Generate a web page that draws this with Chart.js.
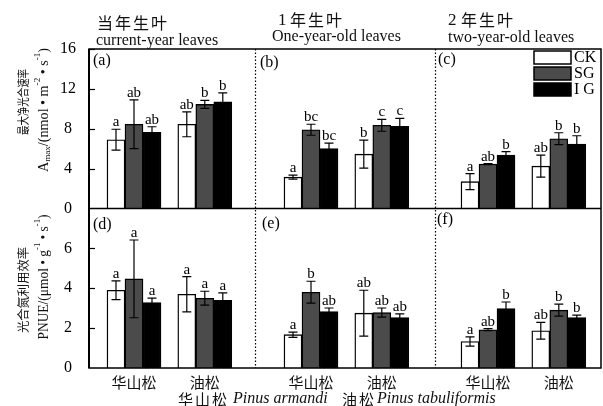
<!DOCTYPE html>
<html>
<head>
<meta charset="utf-8">
<script src="https://cdn.jsdelivr.net/npm/chart.js@4.4.1/dist/chart.umd.min.js"></script>
<style>
body { margin: 0; background: #fff; }
</style>
</head>
<body>
<canvas id="chart" width="603" height="406"></canvas>
<script>
var species    = ['华山松', '油松', '华山松', '油松', '华山松', '油松']
var treatments = ['CK', 'SG', 'I G']
var amaxTicks  = [0, 4, 8, 12, 16]
var pnueTicks  = [0, 2, 4, 6]

// 最大净光合速率 Amax, panels (a)(b)(c)
var amaxCK    = [6.9, 8.45, 3.15, 5.45, 2.7, 4.25]
var amaxCKErr = [1.05, 1.25, 0.2, 1.4, 0.8, 1.1]
var amaxSG    = [8.45, 10.45, 7.9, 8.35, 4.45, 7.0]
var amaxSGErr = [2.45, 0.4, 0.55, 0.6, 0.05, 0.6]
var amaxIG    = [7.65, 10.7, 6.0, 8.25, 5.35, 6.45]
var amaxIGErr = [0.55, 0.9, 0.55, 0.8, 0.35, 0.85]
var amaxCKSig = ['a', 'ab', 'a', 'b', 'a', 'ab']
var amaxSGSig = ['ab', 'b', 'bc', 'c', 'ab', 'b']
var amaxIGSig = ['ab', 'b', 'bc', 'c', 'b', 'b']

// 光合氮利用效率 PNUE, panels (d)(e)(f)
var pnueCK    = [3.9, 3.7, 1.67, 2.75, 1.33, 1.87]
var pnueCKErr = [0.47, 0.88, 0.13, 1.15, 0.23, 0.42]
var pnueSG    = [4.47, 3.5, 3.8, 2.78, 1.92, 2.9]
var pnueSGErr = [1.95, 0.35, 0.55, 0.23, 0.05, 0.3]
var pnueIG    = [3.28, 3.4, 2.83, 2.53, 2.98, 2.53]
var pnueIGErr = [0.22, 0.37, 0.18, 0.18, 0.33, 0.12]
var pnueCKSig = ['a', 'a', 'a', 'ab', 'a', 'ab']
var pnueSGSig = ['a', 'a', 'b', 'ab', 'ab', 'b']
var pnueIGSig = ['a', 'a', 'ab', 'ab', 'b', 'b']

var SERIF = 'Liberation Serif'
var CJK   = 'Noto Sans CJK SC'
var FILLS = ['#ffffff', '#4b4b4b', '#000000']

// 3 panels x 2 species, a wider gap between panels
function slot(i) { return Math.floor(i / 2) * 5 + (i % 2) * 2 + 1 }

function bars(name, axis, fill, values, errs, sig) {
	return {
		label: name, stack: name, yAxisID: axis,
		data: values.map(function (v, i) { return { x: slot(i), y: v } }),
		err: errs, sig: sig,
		backgroundColor: fill, borderColor: '#000', borderWidth: 1.4,
		barThickness: 18
	}
}

function txt(ctx, s, x, y, font, align, base, spacing) {
	ctx.font = font
	ctx.textAlign = align || 'left'
	ctx.textBaseline = base || 'middle'
	ctx.letterSpacing = spacing || '0px'
	ctx.fillText(s, x, y)
	ctx.letterSpacing = '0px'
}

// rotated axis title, parts = [text, font, shift]; squeezed to len px
function richTitle(ctx, parts, cx, cy, len) {
	var w = 0
	parts.forEach(function (p) { ctx.font = p[1]; w += ctx.measureText(p[0]).width })
	ctx.save()
	ctx.translate(cx, cy)
	ctx.rotate(-Math.PI / 2)
	ctx.scale(len / w, 1)
	ctx.textAlign = 'left'
	ctx.textBaseline = 'middle'
	var x = -w / 2
	parts.forEach(function (p) {
		ctx.font = p[1]
		ctx.fillText(p[0], x, p[2] || 0)
		x += ctx.measureText(p[0]).width
	})
	ctx.restore()
}

var decor = {
	id: 'decor',
	afterDatasetsDraw: function (chart) {
		var ctx = chart.ctx
		ctx.save()
		ctx.strokeStyle = '#000'
		ctx.fillStyle = '#000'
		ctx.lineWidth = 1.2
		chart.data.datasets.forEach(function (ds, di) {
			var ys = chart.scales[ds.yAxisID]
			chart.getDatasetMeta(di).data.forEach(function (bar, i) {
				var v = ds.data[i].y, e = ds.err[i]
				var top = ys.getPixelForValue(v + e), bot = ys.getPixelForValue(v - e)
				ctx.beginPath()
				ctx.moveTo(bar.x, top); ctx.lineTo(bar.x, bot)
				ctx.moveTo(bar.x - 4.5, top); ctx.lineTo(bar.x + 4.5, top)
				ctx.moveTo(bar.x - 4.5, bot); ctx.lineTo(bar.x + 4.5, bot)
				ctx.stroke()
				txt(ctx, ds.sig[i], bar.x, Math.min(top, bar.y) - 3, '15px ' + SERIF, 'center', 'alphabetic')
			})
		})
		ctx.restore()
	},
	afterDraw: function (chart) {
		var ctx = chart.ctx, a = chart.chartArea
		var x = chart.scales.x, yA = chart.scales.yA, yP = chart.scales.yP
		ctx.save()
		ctx.strokeStyle = '#000'
		ctx.fillStyle = '#000'

		// frame
		ctx.lineWidth = 1.5
		ctx.strokeRect(a.left, a.top, a.right - a.left, a.bottom - a.top)
		ctx.beginPath(); ctx.moveTo(a.left, yP.top); ctx.lineTo(a.right, yP.top); ctx.stroke()
		ctx.lineWidth = 2
		ctx.beginPath(); ctx.moveTo(a.left, a.top); ctx.lineTo(a.left, a.bottom); ctx.stroke()

		// dotted panel dividers
		ctx.lineWidth = 1.2
		ctx.setLineDash([1.5, 2])
		;[4.42, 9.5].forEach(function (v) {
			var px = Math.round(x.getPixelForValue(v)) + 0.5
			ctx.beginPath(); ctx.moveTo(px, a.top); ctx.lineTo(px, a.bottom); ctx.stroke()
		})
		ctx.setLineDash([])

		// inward ticks
		ctx.lineWidth = 1.2
		;[[yA, amaxTicks], [yP, pnueTicks]].forEach(function (s) {
			s[1].forEach(function (t) {
				if (t === 0) return
				var py = Math.round(s[0].getPixelForValue(t)) + 0.5
				ctx.beginPath(); ctx.moveTo(a.left, py); ctx.lineTo(a.left + 6, py); ctx.stroke()
			})
		})

		// panel letters
		var F16 = '16px ' + SERIF
		;[['(a)', 93, 61], ['(b)', 260, 63], ['(c)', 438, 60],
		  ['(d)', 93, 225], ['(e)', 262, 224], ['(f)', 437, 220]].forEach(function (p) {
			txt(ctx, p[0], p[1], p[2], F16)
		})

		// legend
		var rows = [51, 67, 83]
		treatments.forEach(function (t, k) {
			ctx.fillStyle = FILLS[k]
			ctx.fillRect(534, rows[k], 37, 13)
			ctx.lineWidth = 1.5
			ctx.strokeRect(534, rows[k], 37, 13)
			ctx.fillStyle = '#000'
			txt(ctx, t, 574, rows[k] + 7, F16)
		})

		// column titles
		ctx.fillStyle = '#111'
		txt(ctx, '当年生叶', 97, 23, '16px ' + CJK, 'left', 'middle', '2px')
		txt(ctx, '1', 278, 21, '17px ' + SERIF)
		txt(ctx, '年生叶', 290, 20, '16px ' + CJK, 'left', 'middle', '2px')
		txt(ctx, '2', 448, 21, '17px ' + SERIF)
		txt(ctx, '年生叶', 461, 20, '16px ' + CJK, 'left', 'middle', '2px')
		txt(ctx, 'current-year leaves', 96, 45, F16, 'left', 'alphabetic')
		txt(ctx, 'One-year-old leaves', 272, 41, F16, 'left', 'alphabetic')
		txt(ctx, 'two-year-old leaves', 448, 42, F16, 'left', 'alphabetic')

		// species caption
		txt(ctx, '华山松', 178, 399, '15px ' + CJK, 'left', 'middle', '2px')
		txt(ctx, 'Pinus armandi', 233, 399, 'italic 16px ' + SERIF)
		txt(ctx, '油松', 342, 399, '15px ' + CJK, 'left', 'middle', '2px')
		txt(ctx, 'Pinus tabuliformis', 377, 399, 'italic 16px ' + SERIF)

		// y titles
		var big = '14px ' + SERIF, small = '9px ' + SERIF
		richTitle(ctx, [['最大净光合速率', '12px ' + CJK]], 23, 102, 66)
		richTitle(ctx, [['A', big], ['max', small, 4], ['/(nmol • m', big], ['-2', small, -6],
			[' • s', big], ['-1', small, -6], [')', big]], 44, 110, 124)
		richTitle(ctx, [['光合氮利用效率', '12px ' + CJK]], 23, 290, 86)
		richTitle(ctx, [['PNUE/(μmol • g', big], ['-1', small, -6],
			[' • s', big], ['-1', small, -6], [')', big]], 44, 277, 125)
		ctx.restore()
	}
}

function yScale(max, ticks, pad) {
	return {
		type: 'linear', axis: 'y', position: 'left', stack: 'rows', stackWeight: 1,
		min: 0, max: max,
		afterBuildTicks: function (s) { s.ticks = ticks.map(function (v) { return { value: v } }) },
		afterFit: function (s) { s.width = 89 },
		ticks: { font: { family: SERIF, size: 16 }, color: '#000', padding: pad, crossAlign: 'center' },
		grid: { display: false, drawTicks: false },
		border: { display: false }
	}
}

new Chart(document.getElementById('chart'), {
	type: 'bar',
	data: {
		datasets: [
			bars('CK', 'yA', FILLS[0], amaxCK, amaxCKErr, amaxCKSig),
			bars('SG', 'yA', FILLS[1], amaxSG, amaxSGErr, amaxSGSig),
			bars('IG', 'yA', FILLS[2], amaxIG, amaxIGErr, amaxIGSig),
			bars('CK', 'yP', FILLS[0], pnueCK, pnueCKErr, pnueCKSig),
			bars('SG', 'yP', FILLS[1], pnueSG, pnueSGErr, pnueSGSig),
			bars('IG', 'yP', FILLS[2], pnueIG, pnueIGErr, pnueIGSig)
		]
	},
	options: {
		responsive: false,
		animation: false,
		devicePixelRatio: 1,
		layout: { padding: { top: 49, right: 2, left: 0, bottom: 0 } },
		plugins: { legend: { display: false }, tooltip: { enabled: false } },
		scales: {
			x: {
				type: 'linear', offset: false, min: -0.271, max: 14.192,
				afterBuildTicks: function (s) { s.ticks = species.map(function (n, i) { return { value: slot(i) } }) },
				afterFit: function (s) { s.height = 38 },
				ticks: {
					autoSkip: false, maxRotation: 0, padding: 5, color: '#111',
					font: { family: CJK, size: 15 },
					callback: function (v, i) { return species[i] }
				},
				grid: { display: false, drawTicks: false },
				border: { display: false }
			},
			yP: yScale(8, pnueTicks, 17),
			yA: yScale(16, amaxTicks, 13)
		}
	},
	plugins: [decor]
})
</script>
</body>
</html>
